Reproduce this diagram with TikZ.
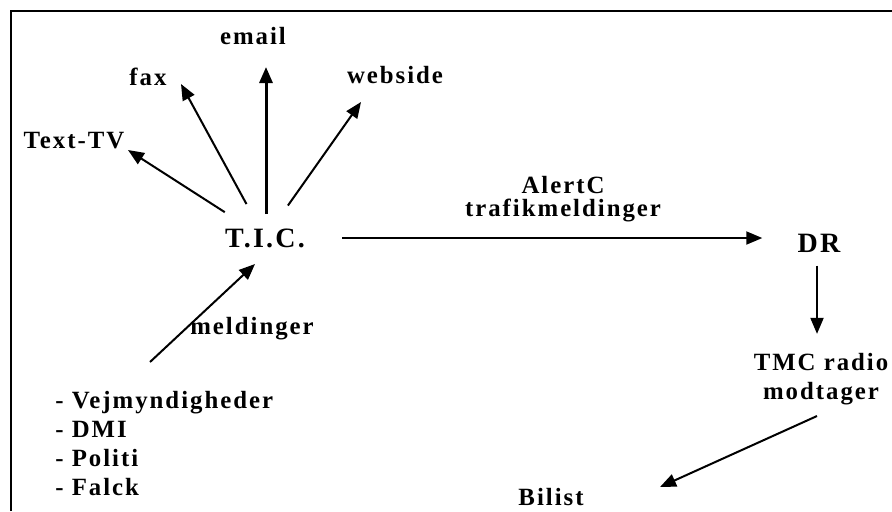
\documentclass[tikz,border=0pt]{standalone}
\usepackage{fontspec}
\setmainfont{Liberation Serif}[LetterSpace=8]
\usetikzlibrary{arrows.meta, positioning, calc}
\tikzset{
    lbl/.style={font=\fontsize{12.4}{14.4}\selectfont\bfseries, inner sep=1.5pt},
    bigLbl/.style={font=\fontsize{14}{16.8}\selectfont\bfseries, inner sep=1.5pt},
    arr/.style={-{Triangle[length=8pt, width=6.5pt]}, line width=1pt}
}

\begin{document}
\begin{tikzpicture}[x=0.5pt, y=-0.5pt]
    \useasboundingbox (0,0) rectangle (892,511);
    % --- frame ---
    \draw[line width=1pt] (11,511) -- (11,11) -- (892,11);
    % --- T.I.C. and its outputs ---
    \node[bigLbl] (tic) at (265,238) {T.I.C.};
    \node[lbl] (txttv) at (74,141) {Text-TV};
    \node[lbl] (fax) at (148,77) {fax};
    \node[lbl] (mail) at (253,36) {email};
    \node[lbl] (web) at (395,75) {webside};
    \coordinate (txttip) at (128,150); \coordinate (faxtip) at (181,84);
    \coordinate (mailtip) at (266,67); \coordinate (webtip) at (361,102);
    \draw[arr, shorten <=12pt] (tic) -- (txttip);
    \draw[arr, shorten <=12pt] (tic) -- (faxtip);
    \draw[arr, line width=1.5pt, shorten <=12pt] (tic.center -| mailtip) -- (mailtip);
    \draw[arr, shorten <=12pt] (tic) -- (webtip);
    % --- sources ---
    \node[lbl, anchor=north west, align=left, inner sep=0pt] (srcs) at (55,391)
        {- Vejmyndigheder\\- DMI\\- Politi\\- Falck};
    \node[lbl] (meld) at (252,329) {meldinger};
    \coordinate (srcout) at (150,362); \coordinate (ticin) at (255,264);
    \draw[arr] (srcout) -- (ticin);
    % --- broadcast chain ---
    \node[bigLbl] (dr) at (819,243) {DR};
    \node[lbl, align=center] (alert) at (563,199) {AlertC\\[-3pt]trafikmeldinger};
    \draw[arr, shorten <=17pt, shorten >=16pt] (tic.east) -- (tic.east -| dr.west);
    \node[lbl, align=center] (tmc) at (821,379) {TMC radio\\modtager};
    \draw[arr, shorten <=5pt, shorten >=8pt] (dr.south -| 817,0) -- (tmc.north -| 817,0);
    \node[lbl] (bilist) at (551,497) {Bilist};
    \coordinate (tmcout) at (817,416); \coordinate (biltip) at (660,487);
    \draw[arr] (tmcout) -- (biltip);
\end{tikzpicture}
\end{document}
